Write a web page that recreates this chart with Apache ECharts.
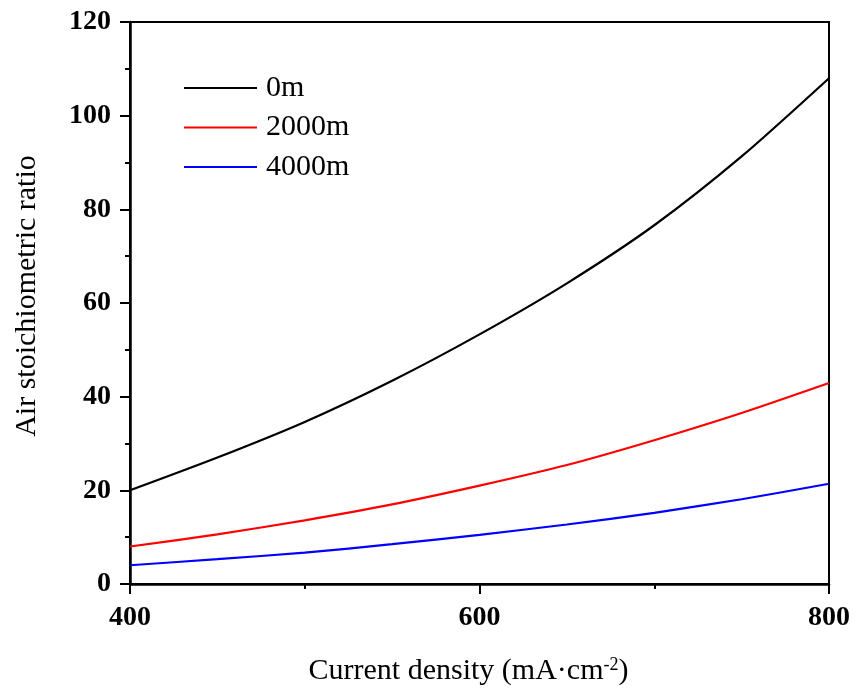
<!DOCTYPE html>
<html>
<head>
<meta charset="utf-8">
<script src="https://cdn.jsdelivr.net/npm/echarts@6/dist/echarts.min.js"></script>
<style>
  html, body {margin: 0; padding: 0; background: #fff;}
  #chart {width: 854px; height: 693px;}
</style>
</head>
<body>
<div id="chart"></div>
<script>
const currentDensity = [400, 450, 500, 550, 600, 650, 700, 750, 800];
const ratio0m = [20, 27, 34.6, 43.4, 53.3, 64.2, 76.6, 91.3, 108];
const ratio2000m = [8, 10.6, 13.6, 17, 21, 25.4, 30.7, 36.5, 42.9];
const ratio4000m = [4, 5.3, 6.7, 8.5, 10.5, 12.7, 15.2, 18.1, 21.4];
const seriesNames = ['0m', '2000m', '4000m'];
const seriesColors = ['#000000', '#ff0000', '#0000ff'];

const font = '"Liberation Serif", "Times New Roman", serif';
const pair = (ys) => currentDensity.map((x, i) => [x, ys[i]]);

const myChart = echarts.init(document.getElementById('chart'));
myChart.setOption({
  animation: false,
  textStyle: {fontFamily: font},
  grid: {
    left: 130, right: 25, top: 22, bottom: 109,
    show: true, borderColor: '#000', borderWidth: 2, backgroundColor: 'transparent'
  },
  legend: {
    orient: 'vertical',
    left: 178, top: 68,
    itemWidth: 73, itemHeight: 14, itemGap: 9.5,
    itemStyle: {opacity: 0},
    textStyle: {fontFamily: font, fontSize: 30, color: '#000', lineHeight: 30, padding: [0, 0, 0, 4]},
    data: seriesNames
  },
  xAxis: {
    type: 'value',
    min: 400, max: 800, interval: 200,
    name: 'Current density (mA·cm{sup|-2})',
    nameLocation: 'middle',
    nameGap: 72,
    nameTextStyle: {
      fontFamily: font, fontSize: 30, color: '#000', padding: [0, 22, 0, 0],
      rich: {sup: {fontFamily: font, fontSize: 18, color: '#000', verticalAlign: 'top', padding: [0, 0, 12, 0]}}
    },
    axisLine: {lineStyle: {color: '#000', width: 2.5}},
    axisTick: {show: true, inside: false, length: 10, lineStyle: {color: '#000', width: 2}},
    minorTick: {show: true, splitNumber: 2, length: 5, lineStyle: {color: '#000', width: 2}},
    splitLine: {show: false},
    axisLabel: {fontFamily: font, fontSize: 28, fontWeight: 'bold', color: '#000', margin: 20}
  },
  yAxis: {
    type: 'value',
    min: 0, max: 120, interval: 20,
    name: 'Air stoichiometric ratio',
    nameLocation: 'middle',
    nameGap: 88,
    nameTextStyle: {fontFamily: font, fontSize: 30, color: '#000', padding: [0, 0, 0, 14]},
    axisLine: {show: true, lineStyle: {color: '#000', width: 2.5}},
    axisTick: {show: true, inside: false, length: 10, lineStyle: {color: '#000', width: 2}},
    minorTick: {show: true, splitNumber: 2, length: 5, lineStyle: {color: '#000', width: 2}},
    splitLine: {show: false},
    axisLabel: {fontFamily: font, fontSize: 28, fontWeight: 'bold', color: '#000', margin: 19}
  },
  series: [ratio0m, ratio2000m, ratio4000m].map((ys, i) => ({
    name: seriesNames[i],
    type: 'line',
    data: pair(ys),
    symbol: 'none',
    smooth: 0.25,
    color: seriesColors[i],
    lineStyle: {color: seriesColors[i], width: 2.2},
    itemStyle: {color: seriesColors[i]}
  }))
});
</script>
</body>
</html>
